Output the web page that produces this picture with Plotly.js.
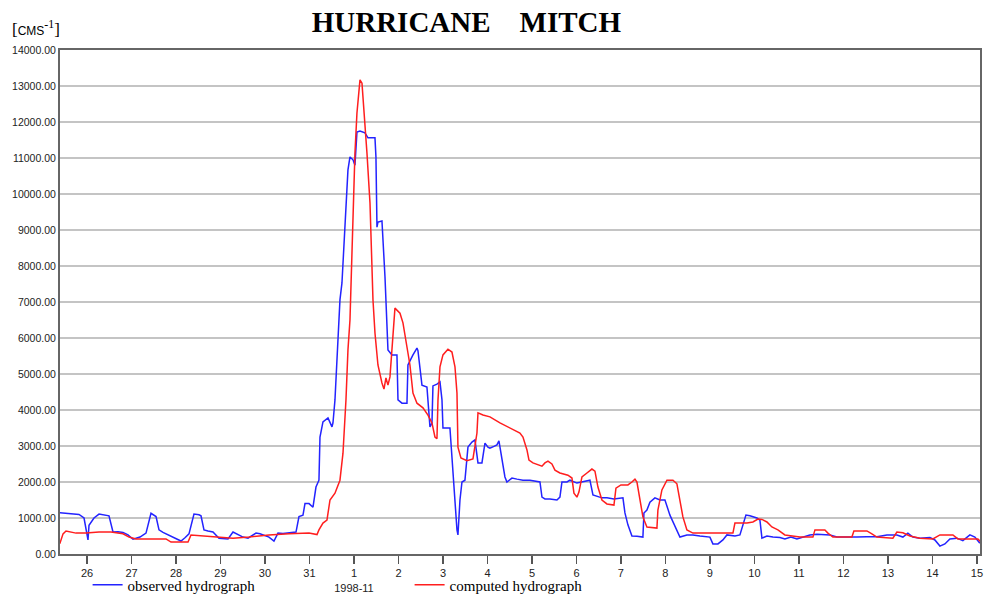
<!DOCTYPE html>
<html>
<head>
<meta charset="utf-8">
<script src="https://cdn.plot.ly/plotly-3.0.1.min.js"></script>
<style>html,body{margin:0;padding:0;background:#fff;}#chart{width:984px;height:594px;}</style>
</head>
<body>
<div id="chart"></div>
<script>
// Time in days counted from 1998-10-26 00:00 (tick "26" = 0, "1 / 1998-11" = 6, "15" = 20)
const tickDays = [0,1,2,3,4,5,6,7,8,9,10,11,12,13,14,15,16,17,18,19,20];
const tickLabels = ["26","27","28","29","30","31","1<br>1998-11","2","3","4","5","6","7","8","9","10","11","12","13","14","15"];

const obsDay = [-0.629,-0.494,-0.337,-0.180,-0.067,0.022,0.045,0.157,0.270,0.382,0.494,0.584,0.697,0.809,0.921,1.034,1.191,1.326,1.438,1.551,1.618,1.708,1.775,1.865,1.933,2.022,2.112,2.202,2.292,2.404,2.517,2.562,2.629,2.719,2.831,2.966,3.056,3.169,3.281,3.393,3.506,3.618,3.708,3.798,3.888,3.955,4.090,4.202,4.292,4.404,4.539,4.629,4.697,4.764,4.854,4.899,4.989,5.079,5.146,5.213,5.236,5.303,5.416,5.506,5.528,5.573,5.640,5.685,5.730,5.798,5.865,5.910,5.978,6.022,6.067,6.135,6.247,6.315,6.472,6.494,6.517,6.539,6.629,6.697,6.742,6.764,6.854,6.966,6.989,7.079,7.191,7.213,7.326,7.416,7.438,7.528,7.640,7.708,7.753,7.775,7.865,7.933,7.978,8.000,8.157,8.225,8.315,8.337,8.382,8.427,8.494,8.562,8.652,8.719,8.787,8.876,8.944,9.011,9.056,9.146,9.213,9.258,9.326,9.393,9.438,9.551,9.663,9.798,9.955,10.180,10.225,10.292,10.404,10.562,10.629,10.674,10.787,10.854,11.011,11.124,11.236,11.303,11.371,11.461,11.573,11.685,11.843,12.045,12.090,12.157,12.247,12.360,12.494,12.517,12.584,12.652,12.764,12.876,12.989,13.101,13.169,13.258,13.326,13.483,13.618,13.775,14.000,14.067,14.180,14.292,14.382,14.562,14.674,14.809,14.899,15.056,15.124,15.169,15.281,15.416,15.573,15.685,15.820,15.955,16.090,16.247,16.404,16.539,16.697,16.854,17.079,17.303,17.528,17.753,17.978,18.202,18.337,18.449,18.562,18.719,18.944,19.056,19.169,19.281,19.393,19.551,19.685,19.843,19.955,20.067];
const obsFlow = [1150,1130,1120,1100,1000,390,800,1000,1110,1080,1060,610,620,600,530,410,470,580,1130,1040,670,600,560,520,470,420,360,450,560,1110,1090,1060,670,640,610,440,430,420,610,530,470,440,510,580,560,530,470,360,580,570,580,600,610,1040,1080,1400,1400,1300,1860,2050,3250,3670,3780,3530,3640,4280,6140,7060,7530,9080,10670,11030,10950,10800,11720,11750,11700,11560,11560,11030,9080,9220,9250,7700,6500,5670,5530,5530,4280,4190,4190,5250,5530,5720,5650,4690,4640,3530,3640,4670,4720,4780,4280,3500,3500,2250,670,530,1500,2000,2050,2970,3110,3170,2530,2530,3080,2970,2940,2990,3030,3140,2670,2140,2000,2110,2080,2050,2050,2000,1580,1530,1530,1500,1580,2000,2000,2050,1970,2000,2030,2050,1640,1600,1560,1560,1530,1560,1140,810,500,490,470,1140,1220,1440,1560,1500,1500,1080,890,670,470,530,530,500,470,280,280,390,530,500,530,1080,1060,1000,940,440,500,470,460,420,470,420,470,530,550,540,530,470,460,470,480,480,530,530,470,580,470,440,460,390,220,280,420,440,370,530,470,300];

const compDay = [-0.652,-0.607,-0.539,-0.472,-0.247,-0.022,0.270,0.539,0.809,0.944,1.101,1.775,1.888,2.270,2.337,2.607,2.899,3.281,3.640,4.090,4.539,4.989,5.169,5.213,5.303,5.393,5.461,5.573,5.685,5.753,5.820,5.865,5.910,5.978,6.022,6.067,6.135,6.180,6.247,6.292,6.360,6.404,6.427,6.472,6.539,6.629,6.674,6.719,6.764,6.809,6.876,6.921,7.034,7.101,7.191,7.258,7.326,7.416,7.551,7.663,7.753,7.820,7.865,7.888,7.933,8.000,8.112,8.202,8.270,8.315,8.337,8.404,8.539,8.674,8.764,8.787,8.899,9.056,9.281,9.506,9.730,9.798,9.888,9.933,10.022,10.225,10.292,10.360,10.449,10.517,10.629,10.809,10.899,10.944,11.011,11.056,11.124,11.236,11.348,11.416,11.483,11.573,11.685,11.843,11.888,12.000,12.157,12.247,12.315,12.360,12.427,12.494,12.584,12.809,12.831,12.921,13.034,13.169,13.258,13.326,13.393,13.483,13.618,14.067,14.517,14.562,14.831,14.966,15.079,15.169,15.281,15.393,15.528,15.685,16.022,16.315,16.360,16.584,16.652,16.764,17.191,17.236,17.528,17.640,17.753,18.112,18.202,18.337,18.494,18.719,19.011,19.169,19.461,19.573,20.022,20.090];
const compFlow = [250,300,560,640,580,580,610,610,560,470,420,420,330,330,530,500,470,440,470,530,560,580,540,670,860,940,1500,1690,2050,2800,4280,5670,6500,9750,11140,12250,13170,13080,12060,11140,9750,7890,7060,6140,5250,4750,4580,4890,4690,4920,6140,6830,6690,6420,5750,5250,4470,4190,4060,3860,3640,3250,3200,4280,5200,5530,5690,5610,5200,4470,2970,2670,2590,2640,3360,3920,3860,3810,3640,3500,3360,3250,2890,2610,2530,2440,2530,2580,2500,2330,2250,2190,2110,1690,1580,1720,2140,2250,2360,2300,1860,1500,1390,1360,1830,1920,1920,2000,2080,2000,1500,1030,750,720,1220,1780,2050,2050,1950,1500,1030,670,580,580,580,860,860,890,970,960,890,750,670,530,470,470,670,670,580,470,470,640,640,560,470,440,610,590,500,440,420,530,530,420,420,330];

const traces = [
  {x: obsDay, y: obsFlow, type: 'scatter', mode: 'lines', name: 'observed hydrograph',
   line: {color: 'rgb(35,35,255)', width: 1.5}},
  {x: compDay, y: compFlow, type: 'scatter', mode: 'lines', name: 'computed hydrograph',
   line: {color: 'rgb(255,30,30)', width: 1.5}}
];

const layout = {
  width: 984, height: 594,
  margin: {l: 60, r: 4, t: 50, b: 40, autoexpand: false},
  paper_bgcolor: '#fff', plot_bgcolor: '#fff',
  title: {
    text: 'HURRICANE\u00A0\u00A0\u00A0 MITCH',
    font: {family: 'Liberation Serif, Times New Roman, serif', size: 29, color: '#000', weight: 'bold'},
    x: 0.474, xref: 'container', xanchor: 'center',
    y: 0.963, yref: 'container', yanchor: 'middle'
  },
  xaxis: {
    range: [-0.607, 20.07],
    tickmode: 'array', tickvals: tickDays, ticktext: tickLabels,
    ticks: 'outside', ticklen: 8, tickwidth: 1.5, tickcolor: '#555',
    tickfont: {family: 'Liberation Sans, Arial, sans-serif', size: 11, color: '#222'},
    showgrid: false, zeroline: false,
    showline: true, linecolor: '#666', linewidth: 2, mirror: true
  },
  yaxis: {
    range: [0, 14000], dtick: 1000, tick0: 0, tickformat: '.2f',
    ticks: '', ticklen: 0,
    tickfont: {family: 'Liberation Sans, Arial, sans-serif', size: 10.5, color: '#222'},
    showgrid: true, gridcolor: '#c4c4c4', gridwidth: 1.5, zeroline: false,
    showline: true, linecolor: '#666', linewidth: 2, mirror: true
  },
  showlegend: true,
  legend: {
    orientation: 'h', x: 0.03, xanchor: 'left', y: -0.0615, yanchor: 'middle',
    font: {family: 'Liberation Serif, Times New Roman, serif', size: 15, color: '#000'},
    bgcolor: 'rgba(0,0,0,0)', entrywidth: 277, entrywidthmode: 'pixels'
  },
  annotations: [{
    text: '[<span style="font-family:Liberation Sans, Arial, sans-serif;font-size:12px">CMS</span><sup>-1</sup>]',
    xref: 'paper', yref: 'paper', x: -0.054, y: 1.044, xanchor: 'left', yanchor: 'middle',
    showarrow: false,
    font: {family: 'Liberation Serif, Times New Roman, serif', size: 17, color: '#000'}
  }]
};

Plotly.newPlot('chart', traces, layout, {displayModeBar: false, staticPlot: true});
</script>
</body>
</html>
